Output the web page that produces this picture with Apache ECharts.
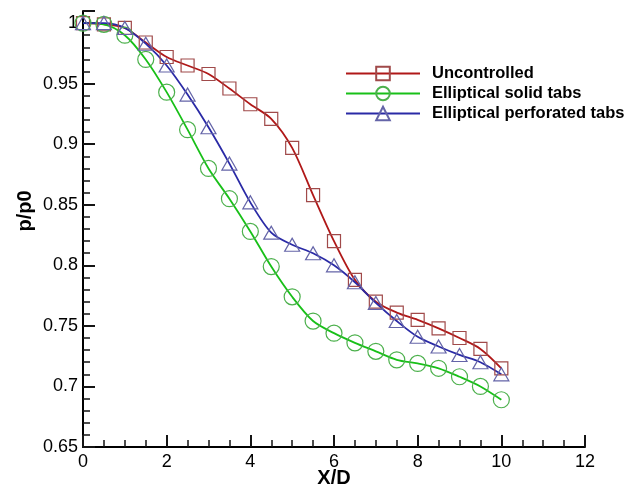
<!DOCTYPE html>
<html>
<head>
<meta charset="utf-8">
<script src="https://cdn.jsdelivr.net/npm/echarts@6/dist/echarts.min.js"></script>
<style>
html,body{margin:0;padding:0;background:#fff;}
#chart{width:638px;height:490px;}
</style>
</head>
<body>
<div id="chart"></div>
<script>
const xValues = [0, 0.5, 1, 1.5, 2, 2.5, 3, 3.5, 4, 4.5, 5, 5.5, 6, 6.5, 7, 7.5, 8, 8.5, 9, 9.5, 10];
const uncontrolled = [1.0, 0.999, 0.996, 0.984, 0.972, 0.965, 0.958, 0.946, 0.933, 0.921, 0.897, 0.858, 0.820, 0.788, 0.770, 0.761, 0.755, 0.748, 0.740, 0.731, 0.715];
const solidTabs = [1.0, 0.999, 0.990, 0.970, 0.943, 0.912, 0.880, 0.855, 0.828, 0.799, 0.774, 0.754, 0.744, 0.736, 0.729, 0.722, 0.719, 0.715, 0.708, 0.700, 0.689];
const perforatedTabs = [1.0, 1.0, 0.996, 0.983, 0.965, 0.941, 0.914, 0.884, 0.852, 0.827, 0.817, 0.810, 0.800, 0.786, 0.769, 0.754, 0.741, 0.733, 0.726, 0.720, 0.710];
const seriesNames = ['Uncontrolled', 'Elliptical solid tabs', 'Elliptical perforated tabs'];
const yMajorTicks = [0.65, 0.7, 0.75, 0.8, 0.85, 0.9, 0.95, 1];
const xAxisTitle = 'X/D';
const yAxisTitle = 'p/p0';

const FONT = "'Liberation Sans', Arial, sans-serif";
const TICK = '#151515';
const pairs = (ys) => xValues.map((x, i) => [x, ys[i]]);

const chart = echarts.init(document.getElementById('chart'), null, {renderer: 'canvas'});

chart.setOption({
  backgroundColor: '#fff',
  animation: false,
  textStyle: {fontFamily: FONT},
  grid: {left: 83, right: 53, top: 11, bottom: 43, containLabel: false, outerBoundsMode: 'none'},
  legend: {
    orient: 'vertical', left: 345, top: 65, padding: 0,
    itemWidth: 74, itemHeight: 17, itemGap: 3,
    textStyle: {fontFamily: FONT, fontSize: 16.5, fontWeight: 'bold', color: '#000', padding: [0, 0, 0, 7]},
    data: seriesNames
  },
  graphic: [
    {
      type: 'text', x: 334, y: 478,
      style: {text: xAxisTitle, font: "bold 20px 'Liberation Sans', Arial, sans-serif", fill: '#000',
        align: 'center', verticalAlign: 'middle', textAlign: 'center', textVerticalAlign: 'middle'}
    },
    {
      type: 'text', x: 25, y: 211, rotation: Math.PI / 2,
      style: {text: yAxisTitle, font: "bold 20px 'Liberation Sans', Arial, sans-serif", fill: '#000',
        align: 'center', verticalAlign: 'middle', textAlign: 'center', textVerticalAlign: 'middle'}
    }
  ],
  xAxis: [
    {
      type: 'value', position: 'bottom', min: 0, max: 12, interval: 2,
      axisLine: {show: true, onZero: false, lineStyle: {color: '#000', width: 2}},
      axisTick: {show: true, inside: true, length: 12, lineStyle: {color: TICK, width: 2}},
      axisLabel: {show: true, fontSize: 18, color: '#000', fontFamily: FONT, margin: 6},
      splitLine: {show: false}
    },
    {
      type: 'value', position: 'bottom', min: 0, max: 12, interval: 0.5,
      axisLine: {show: false, onZero: false},
      axisTick: {show: true, inside: true, length: 7, lineStyle: {color: TICK, width: 1.5}},
      axisLabel: {show: false},
      splitLine: {show: false}
    }
  ],
  yAxis: [
    {
      type: 'value', position: 'left', min: 0.65, max: 1.01, interval: 0.05,
      axisLine: {show: true, onZero: false, lineStyle: {color: '#000', width: 2}},
      axisTick: {show: true, inside: true, length: 12, lineStyle: {color: TICK, width: 2}},
      axisLabel: {show: true, fontSize: 18, color: '#000', fontFamily: FONT, margin: 5, customValues: yMajorTicks,
        formatter: (v) => String(Math.round(v * 100) / 100)},
      splitLine: {show: false}
    },
    {
      type: 'value', position: 'left', min: 0.65, max: 1.01, interval: 0.01,
      axisLine: {show: false, onZero: false},
      axisTick: {show: true, inside: true, length: 7, lineStyle: {color: TICK, width: 1.5}},
      axisLabel: {show: false},
      splitLine: {show: false}
    }
  ],
  series: [
    {
      name: seriesNames[0], type: 'line', xAxisIndex: 0, yAxisIndex: 0,
      data: pairs(uncontrolled), smooth: 0.3,
      symbol: 'rect', symbolSize: 13,
      lineStyle: {color: '#b01818', width: 1.8},
      itemStyle: {color: 'rgba(255,255,255,0)', borderColor: '#a04a4a', borderWidth: 1.2}
    },
    {
      name: seriesNames[1], type: 'line', xAxisIndex: 0, yAxisIndex: 0,
      data: pairs(solidTabs), smooth: 0.3,
      symbol: 'circle', symbolSize: 16,
      lineStyle: {color: '#18c018', width: 1.8},
      itemStyle: {color: 'rgba(255,255,255,0)', borderColor: '#4cb04c', borderWidth: 1.2}
    },
    {
      name: seriesNames[2], type: 'line', xAxisIndex: 0, yAxisIndex: 0,
      data: pairs(perforatedTabs), smooth: 0.3,
      symbol: 'triangle', symbolSize: [15, 13],
      lineStyle: {color: '#2a2aa6', width: 1.8},
      itemStyle: {color: 'rgba(255,255,255,0)', borderColor: '#6464a8', borderWidth: 1.2}
    }
  ]
});
</script>
</body>
</html>
